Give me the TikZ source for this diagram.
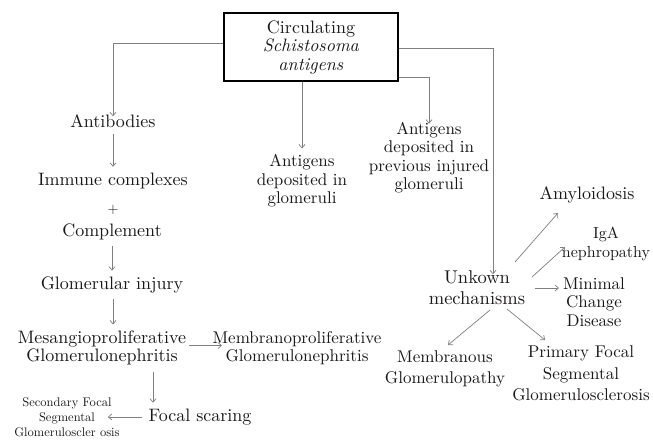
\documentclass[tikz,border=0pt]{standalone}
\usepackage{fontspec}
\setmainfont{lmroman10-regular.otf}[ItalicFont=lmroman10-italic.otf]
\usetikzlibrary{positioning,calc,arrows.meta}
\definecolor{linegray}{HTML}{7F7F7F}
\definecolor{ink}{HTML}{1A1718}

\begin{document}
\begin{tikzpicture}[x=1pt, y=-1pt, ->, >={Straight Barb[length=3.5pt,width=6pt]},
  main/.style={align=center, text=ink, font=\fontsize{18}{18.5}\selectfont, inner sep=2pt},
  narrow/.style={main, font=\fontsize{17}{18.5}\selectfont},
  small/.style={main, font=\fontsize{12.5}{15}\selectfont},
  exact/.style={shorten <=0pt, shorten >=0pt},
  conn/.style={draw=linegray, line width=0.7pt},
  every edge/.append style={conn, shorten <=4pt, shorten >=4pt}]
\useasboundingbox (0,0) rectangle (653,439);

% source
\node[main, draw=black, line width=1.6pt, minimum width=174pt, minimum height=68pt] (box) at (311,47)
  {Circulating\\\textit{Schistosoma}\\\textit{antigens}};

% left column
\node[main] (ab) at (113,121) {Antibodies};
\node[main] (imm) at (113,181) {Immune complexes};
\node[main, font=\fontsize{14}{15}\selectfont] (plus) at (113,210) {+};
\node[main] (comp) at (112,232) {Complement};
\node[main] (inj) at (112,285) {Glomerular injury};
\node[main] (mes) at (102,348) {Mesangioproliferative\\Glomerulonephritis};
\node[narrow] (mem) at (297,348) {Membranoproliferative\\Glomerulonephritis};
\node[main] (foc) at (200,417) {Focal scaring};
\node[small] (sec) at (67,417) {Secondary Focal\\Segmental\\Glomeruloscler osis};

% middle
\node[narrow] (dep) at (302,181) {Antigens\\deposited in\\glomeruli};
\node[narrow] (prev) at (429,157.5) {Antigens\\deposited in\\previous injured\\glomeruli};

% right cluster
\node[main, font=\fontsize{18.5}{21}\selectfont] (unk) at (477,287.5) {Unkown\\mechanisms};
\node[main] (amy) at (587,195) {Amyloidosis};
\node[narrow, font=\fontsize{16}{19}\selectfont] (iga) at (606,243.5) {IgA\\nephropathy};
\node[narrow, font=\fontsize{17}{18.5}\selectfont] (mcd) at (594,302) {Minimal\\Change\\Disease};
\node[narrow, font=\fontsize{17}{21}\selectfont] (mgp) at (445,368.5) {Membranous\\Glomerulopathy};
\node[narrow, font=\fontsize{17}{21.5}\selectfont] (fsgs) at (581,373.5) {Primary Focal\\Segmental\\Glomerulosclerosis};

\draw[conn] ([yshift=4pt]box.west) -| ([yshift=-4pt]ab.north);
\draw[conn] ([yshift=-30pt]box.east) -| ([yshift=-4pt]prev.north);
\draw[conn] ([yshift=-1pt]box.east) -| ([xshift=16pt,yshift=-6pt]unk.north);

\path
    (box.south -| dep.north) edge[shorten <=0pt] (dep.north)
    (ab) edge (imm)
    (comp) edge (inj)
    ([xshift=1pt]inj.south) edge ([xshift=1pt]inj.south |- mes.north)
    ($(mes)+(87,-2.5)$) edge[exact] ($(mem)+(-75,-2.5)$)
    ([xshift=51pt]mes.south) edge ([xshift=-47pt]foc.north)
    (foc.west) edge[shorten >=-14pt] (sec.east)
    ($(unk)+(38,-25.5)$) edge[exact] ($(amy)+(-29,18)$)
    ($(unk)+(55,-10.5)$) edge[exact] ($(iga)+(-41,3.5)$)
    ($(unk)+(58,0.5)$) edge[exact] ($(mcd)+(-35,-14)$)
    ($(unk)+(13,22.5)$) edge[exact] ($(mgp)+(3,-23.5)$)
    ($(unk)+(30,21.5)$) edge[exact] ($(fsgs)+(-36,-33.5)$);
\end{tikzpicture}
\end{document}
